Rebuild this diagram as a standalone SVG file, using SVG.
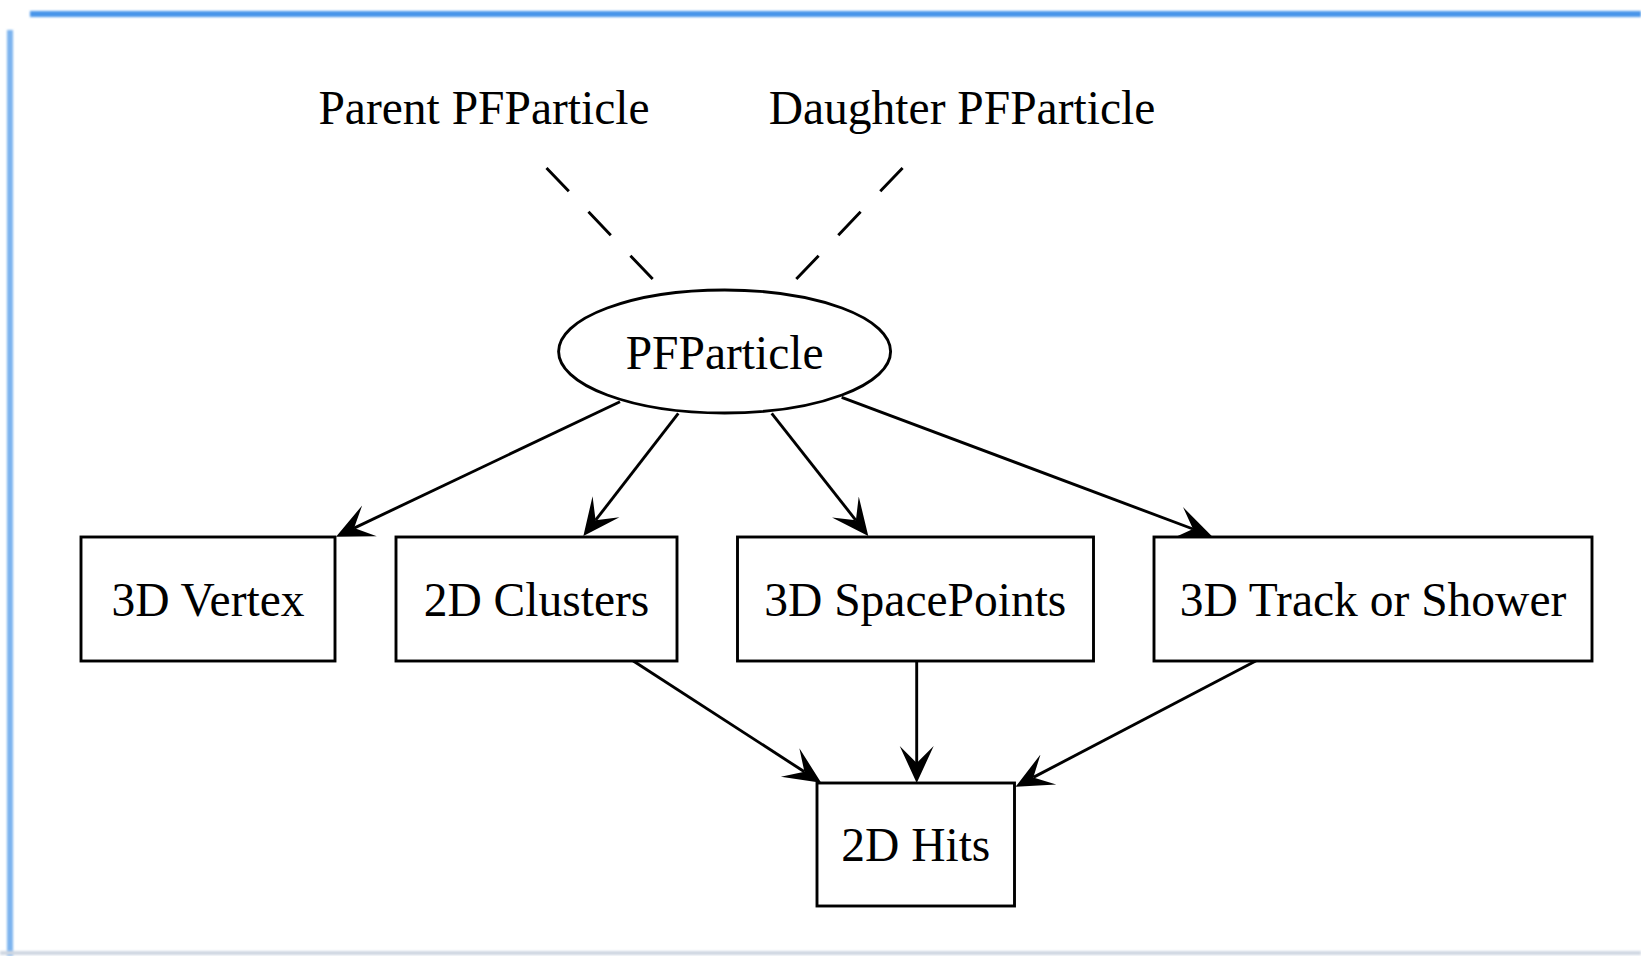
<svg xmlns="http://www.w3.org/2000/svg" width="1641" height="956" viewBox="0 0 1641 956">
  <style>
    .node-shape { fill: #ffffff; stroke: #000000; stroke-width: 2.9; }
    .label { font-family: "Liberation Serif", "Times New Roman", serif; font-size: 47.5px; fill: #000000; text-anchor: middle; }
    .edge { fill: none; stroke: #000000; stroke-width: 2.9; }
    .edge-arrow { marker-end: url(#vee); }
    .edge-dashed { stroke-dasharray: 32.3 28.4; }
    .frame { filter: url(#soft); }
  </style>
  <defs>
    <!-- vee arrowhead; reference point is the inner notch so the line stops there -->
    <marker id="vee" markerUnits="userSpaceOnUse" markerWidth="42" markerHeight="38" viewBox="0 -19 42 38" refX="17" refY="0" orient="auto">
      <path d="M0,-17 L37,0 L0,17 L17,0 Z" fill="#000000"/>
    </marker>
    <filter id="soft" filterUnits="userSpaceOnUse" x="0" y="0" width="1641" height="956">
      <feGaussianBlur stdDeviation="0.8"/>
    </filter>
  </defs>

  <rect x="0" y="0" width="1641" height="956" fill="#ffffff"/>

  <!-- window frame -->
  <g id="frame">
    <rect class="frame" x="30" y="11" width="1611" height="6" fill="#4a96ea"/>
    <rect class="frame" x="7" y="30" width="6" height="926" fill="#7db4ef"/>
    <rect class="frame" x="0" y="951" width="1641" height="4" fill="#cfd7e2"/>
  </g>

  <!-- connectors -->
  <g id="edges">
    <line class="edge edge-dashed" x1="546.5" y1="168" x2="652.7" y2="279"/>
    <line class="edge edge-dashed" x1="902.6" y1="168" x2="796.3" y2="279"/>
    <line class="edge edge-arrow" x1="620" y1="401.7" x2="354.1" y2="528.1"/>
    <line class="edge edge-arrow" x1="678.3" y1="413.3" x2="595.6" y2="520.2"/>
    <line class="edge edge-arrow" x1="771.7" y1="413.3" x2="855.9" y2="520.3"/>
    <line class="edge edge-arrow" x1="841.7" y1="397.3" x2="1193" y2="529"/>
    <line class="edge edge-arrow" x1="631.8" y1="660" x2="804.4" y2="771.8"/>
    <line class="edge edge-arrow" x1="916.7" y1="660" x2="916.7" y2="763"/>
    <line class="edge edge-arrow" x1="1257.6" y1="660" x2="1033.3" y2="777.4"/>
  </g>

  <g id="parent-pfparticle">
    <text class="label" x="484" y="124">Parent PFParticle</text>
  </g>
  <g id="daughter-pfparticle">
    <text class="label" x="962" y="124">Daughter PFParticle</text>
  </g>
  <g id="pfparticle">
    <ellipse class="node-shape" cx="724.6" cy="351.5" rx="166" ry="61.5"/>
    <text class="label" x="724.6" y="369">PFParticle</text>
  </g>
  <g id="vertex-3d">
    <rect class="node-shape" x="81" y="537" width="254" height="124"/>
    <text class="label" x="208" y="616">3D Vertex</text>
  </g>
  <g id="clusters-2d">
    <rect class="node-shape" x="396" y="537" width="281" height="124"/>
    <text class="label" x="536.5" y="616">2D Clusters</text>
  </g>
  <g id="spacepoints-3d">
    <rect class="node-shape" x="737.5" y="537" width="356" height="124"/>
    <text class="label" x="915.3" y="616">3D SpacePoints</text>
  </g>
  <g id="track-or-shower-3d">
    <rect class="node-shape" x="1154" y="537" width="438" height="124"/>
    <text class="label" x="1373" y="616">3D Track or Shower</text>
  </g>
  <g id="hits-2d">
    <rect class="node-shape" x="817" y="783" width="197.5" height="123"/>
    <text class="label" x="915.8" y="861">2D Hits</text>
  </g>
</svg>
